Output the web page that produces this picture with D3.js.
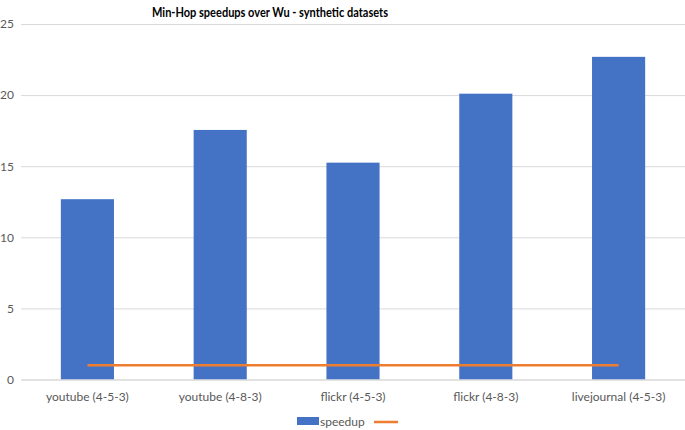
<!DOCTYPE html>
<html>
<head>
<meta charset="utf-8">
<script src="https://cdn.jsdelivr.net/npm/d3@7"></script>
<style>
  body { margin: 0; background: #fff; }
  text { font-family: Lato, "Open Sans", sans-serif; }
</style>
</head>
<body>
<div id="chart"></div>
<script>
// data
var categories = ['youtube (4-5-3)', 'youtube (4-8-3)', 'flickr (4-5-3)', 'flickr (4-8-3)', 'livejournal (4-5-3)'];
var speedup = [12.68, 17.55, 15.25, 20.1, 22.69];
var baseline = [1, 1, 1, 1, 1];
var yTicks = [0, 5, 10, 15, 20, 25];

var width = 685;
var height = 430;
var margin = {top: 24, right: 0, bottom: 50, left: 21};

var svg = d3.select('#chart').append('svg')
    .attr('width', width)
    .attr('height', height);

var x = d3.scaleBand()
    .domain(categories)
    .range([margin.left, width - margin.right])
    .paddingInner(0.6)
    .paddingOuter(0.3);

var y = d3.scaleLinear()
    .domain([0, 25])
    .range([height - margin.bottom - 0.5, margin.top]);

// title
svg.append('text')
    .attr('x', 270)
    .attr('y', 17)
    .attr('text-anchor', 'middle')
    .attr('font-size', 13.5)
    .attr('font-weight', 'bold')
    .attr('fill', '#000')
    .attr('textLength', 236)
    .attr('lengthAdjust', 'spacingAndGlyphs')
    .text('Min-Hop speedups over Wu - synthetic datasets');

// gridlines + y labels
var yAxis = function (g) {
    return g
        .attr('transform', 'translate(' + margin.left + ',0)')
        .call(d3.axisLeft(y)
            .tickValues(yTicks)
            .tickSize(-(width - margin.left - margin.right))
            .tickPadding(7))
        .call(g => g.select('.domain').remove())
        .call(g => g.selectAll('.tick line')
            .attr('stroke', '#d9d9d9')
            .attr('stroke-width', 1))
        .call(g => g.selectAll('.tick text')
            .attr('fill', '#595959')
            .attr('font-size', 12)
            .attr('font-family', 'Lato, sans-serif'));
};
svg.append('g').call(yAxis);

// bars
svg.append('g')
    .selectAll('rect')
    .data(speedup)
    .join('rect')
    .attr('x', (d, i) => x(categories[i]))
    .attr('y', d => y(d))
    .attr('width', x.bandwidth())
    .attr('height', d => y(0) - y(d))
    .attr('fill', '#4472c4');

// x axis
var xAxis = function (g) {
    return g
        .attr('transform', 'translate(0,' + y(0) + ')')
        .call(d3.axisBottom(x).tickSize(0).tickPadding(13))
        .call(g => g.select('.domain')
            .attr('stroke', '#d9d9d9'))
        .call(g => g.selectAll('.tick text')
            .attr('fill', '#595959')
            .attr('font-size', 12)
            .attr('font-family', 'Lato, sans-serif'));
};
svg.append('g').call(xAxis);

// orange line
var line = d3.line()
    .x((d, i) => x(categories[i]) + x.bandwidth() / 2)
    .y(d => y(d));

svg.append('path')
    .datum(baseline)
    .attr('fill', 'none')
    .attr('stroke', '#ed7d31')
    .attr('stroke-width', 2.5)
    .attr('d', line);

// legend
var legend = svg.append('g').attr('transform', 'translate(297,422)');
legend.append('rect')
    .attr('x', 0).attr('y', -5)
    .attr('width', 22).attr('height', 8)
    .attr('fill', '#4472c4');
legend.append('text')
    .attr('x', 23).attr('y', 4)
    .attr('font-size', 12)
    .attr('fill', '#595959')
    .text('speedup');
legend.append('line')
    .attr('x1', 77).attr('x2', 101)
    .attr('y1', 0).attr('y2', 0)
    .attr('stroke', '#ed7d31')
    .attr('stroke-width', 2.5);
</script>
</body>
</html>
